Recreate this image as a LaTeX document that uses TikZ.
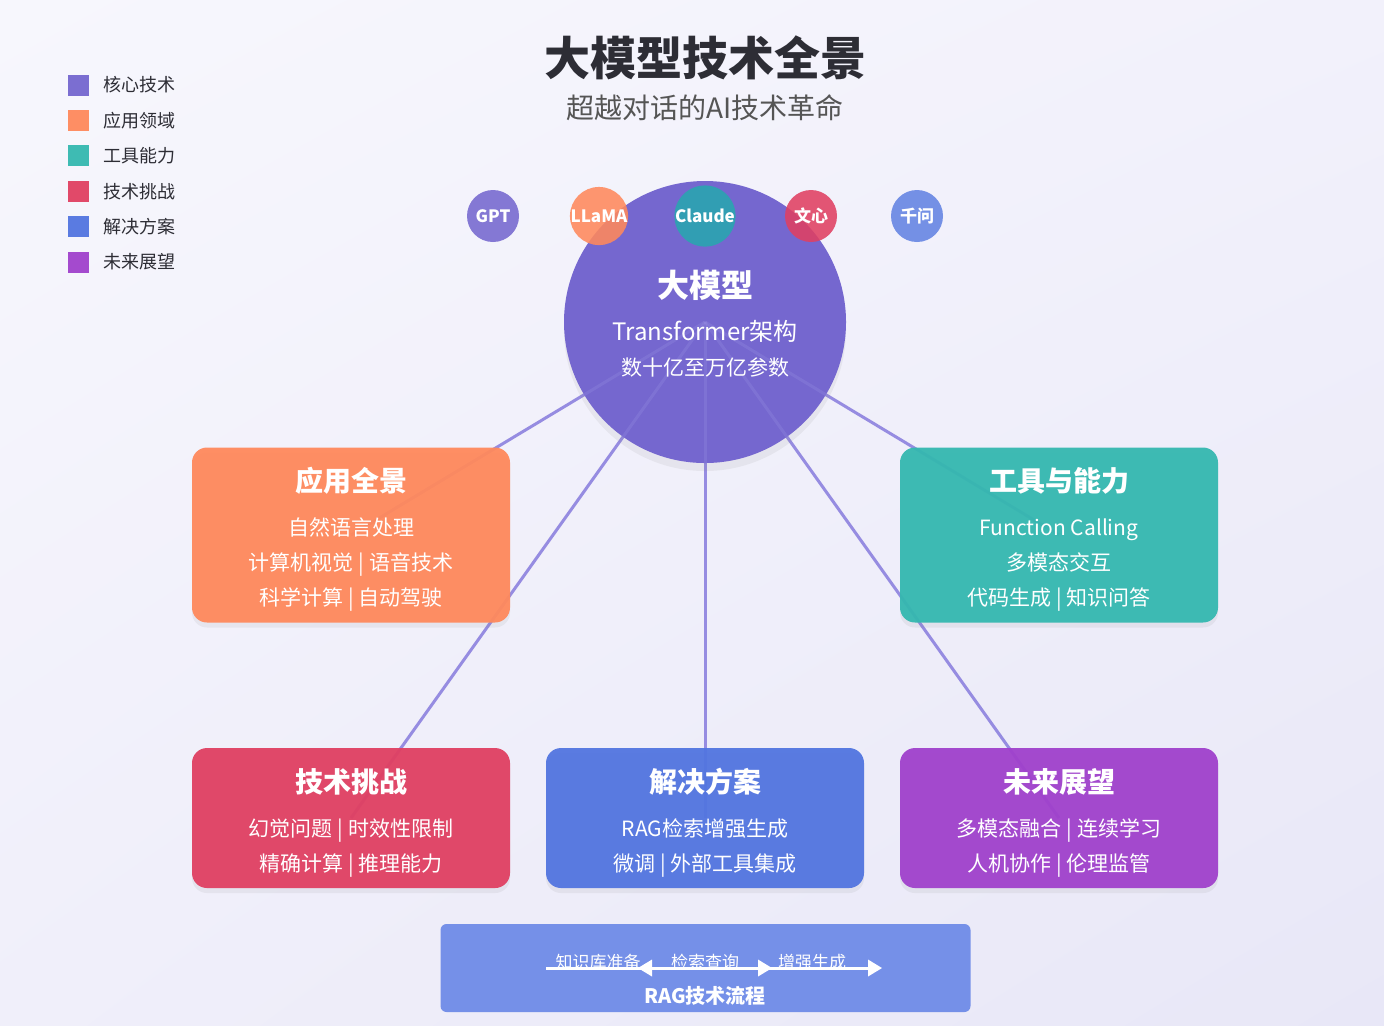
\documentclass[tikz,border=0pt]{standalone}
\usepackage{fontspec}
\setmainfont{Noto Sans CJK SC}
\usetikzlibrary{arrows.meta,shadows,shadings}

\definecolor{coreC}{HTML}{7567CF}
\definecolor{appC}{HTML}{FF895C}
\definecolor{toolC}{HTML}{35B8B0}
\definecolor{claudeC}{HTML}{2EA2B2}
\definecolor{chalC}{HTML}{E04062}
\definecolor{solC}{HTML}{5275E0}
\definecolor{futC}{HTML}{A041CC}
\definecolor{ragC}{HTML}{7590E8}
\definecolor{linkC}{RGB}{150,140,225}
\definecolor{titleC}{HTML}{2D2D35}
\definecolor{subC}{HTML}{555555}
\definecolor{bgUL}{RGB}{247,247,253}
\definecolor{bgUR}{RGB}{242,241,251}
\definecolor{bgLL}{RGB}{240,239,250}
\definecolor{bgLR}{RGB}{232,231,247}

\pgfdeclarelayer{bg}
\pgfdeclarelayer{links}
\pgfsetlayers{bg,links,main}

\begin{document}
\begin{tikzpicture}[x=0.5pt, y=-0.5pt]
\tikzset{
  card/.style={draw=none, rounded corners=7.5pt, minimum width=159pt, inner sep=0pt,
    fill opacity=0.95, drop shadow={shadow xshift=0pt, shadow yshift=-2.5pt, opacity=0.10}},
  cardtitle/.style={text=white, font=\bfseries\fontsize{14}{16}\selectfont},
  cardtext/.style={text=white, text height=9pt, text depth=1.2pt, font=\fontsize{10.5}{12}\selectfont},
  model/.style={circle, minimum size=26pt, inner sep=0pt, fill opacity=0.88, text opacity=1,
    text=white, font=\bfseries\fontsize{8.5}{9}\selectfont},
  legbox/.style={minimum size=10.5pt, inner sep=0pt, fill opacity=0.95},
  legtext/.style={anchor=west, inner sep=0pt, text=titleC, font=\fontsize{9}{10}\selectfont},
  link/.style={draw=linkC, line width=1.5pt},
  ragline/.style={draw=white, line width=1.5pt},
  ragtip/.style={draw=white, fill=white, line width=0pt, -{Triangle[length=7pt,width=8.5pt]}},
  raglab/.style={text=white, font=\fontsize{8.5}{9}\selectfont}}

% ---------------- background and frame ----------------
\begin{pgfonlayer}{bg}
\shade[upper left=bgUL, upper right=bgUR, lower left=bgLL, lower right=bgLR]
  (0,0) rectangle (1384,1025);
\end{pgfonlayer}
\useasboundingbox (0,0) rectangle (1384,1025);

% ---------------- title ----------------
\node[text=titleC, font=\bfseries\fontsize{23}{26}\selectfont] (title) at (705,58) {大模型技术全景};
\node[text=subC, font=\fontsize{14}{16}\selectfont] (subtitle) at (705,108) {超越对话的AI技术革命};

% ---------------- legend ----------------
\node[legbox, fill=coreC] (leg1) at (78.5,85)  {};
\node[legtext] (leg1t) at (103,85)  {核心技术};
\node[legbox, fill=appC]  (leg2) at (78.5,120.4) {};
\node[legtext] (leg2t) at (103,120.4) {应用领域};
\node[legbox, fill=toolC] (leg3) at (78.5,155.8) {};
\node[legtext] (leg3t) at (103,155.8) {工具能力};
\node[legbox, fill=chalC] (leg4) at (78.5,191.2) {};
\node[legtext] (leg4t) at (103,191.2) {技术挑战};
\node[legbox, fill=solC]  (leg5) at (78.5,226.6) {};
\node[legtext] (leg5t) at (103,226.6) {解决方案};
\node[legbox, fill=futC]  (leg6) at (78.5,262) {};
\node[legtext] (leg6t) at (103,262) {未来展望};

% ---------------- core model ----------------
\node[circle, fill=coreC, minimum size=141pt, inner sep=0pt,
  drop shadow={shadow xshift=0pt, shadow yshift=-4pt, opacity=0.10}] (core) at (705,322) {};
% faint links seen through the core
\begin{scope}
\clip (core.center) circle[radius=70.5pt];
\draw[link, draw opacity=0.3] (core.center) -- (351,535);
\draw[link, draw opacity=0.3] (core.center) -- (1059,535);
\draw[link, draw opacity=0.3] (core.center) -- (351,818);
\draw[link, draw opacity=0.3] (core.center) -- (705,818);
\draw[link, draw opacity=0.3] (core.center) -- (1059,818);
\end{scope}
\node[text=white, font=\bfseries\fontsize{16}{18}\selectfont] (coreT) at (705,285) {大模型};
\node[text=white, font=\fontsize{12}{14}\selectfont] (coreA) at (705,331) {Transformer架构};
\node[text=white, font=\fontsize{10.5}{12}\selectfont] (coreB) at (705,367) {数十亿至万亿参数};

\node[model, fill=coreC] (gpt)    at (493,216) {GPT};
\node[model, fill=appC]  (llama)  at (599,216) {LLaMA};
\node[model, fill=claudeC, fill opacity=0.95] (claude) at (705,216) {Claude};
\node[model, fill=chalC] (wenxin) at (811,216) {文心};
\node[model, fill=solC!90!white] (qianwen) at (917,216) {千问};

% ---------------- upper cards ----------------
\node[card, fill=appC, minimum height=87.5pt] (app) at (351,535) {};
\node[cardtitle] (appT) at (351,481) {应用全景};
\node[cardtext]  (appL1) at (351,528) {自然语言处理};
\node[cardtext]  (appL2) at (351,563) {计算机视觉 | 语音技术};
\node[cardtext]  (appL3) at (351,598) {科学计算 | 自动驾驶};

\node[card, fill=toolC, minimum height=87.5pt] (tool) at (1059,535) {};
\node[cardtitle] (toolT) at (1059,481) {工具与能力};
\node[cardtext]  (toolL1) at (1059,528) {Function Calling};
\node[cardtext]  (toolL2) at (1059,563) {多模态交互};
\node[cardtext]  (toolL3) at (1059,598) {代码生成 | 知识问答};

% ---------------- lower cards ----------------
\node[card, fill=chalC, minimum height=70pt] (chal) at (351,818) {};
\node[cardtitle] (chalT) at (351,782) {技术挑战};
\node[cardtext]  (chalL1) at (351,829) {幻觉问题 | 时效性限制};
\node[cardtext]  (chalL2) at (351,864) {精确计算 | 推理能力};

\node[card, fill=solC, minimum height=70pt] (sol) at (705,818) {};
\node[cardtitle] (solT) at (705,782) {解决方案};
\node[cardtext]  (solL1) at (705,829) {RAG检索增强生成};
\node[cardtext]  (solL2) at (705,864) {微调 | 外部工具集成};

\node[card, fill=futC, minimum height=70pt] (fut) at (1059,818) {};
\node[cardtitle] (futT) at (1059,782) {未来展望};
\node[cardtext]  (futL1) at (1059,829) {多模态融合 | 连续学习};
\node[cardtext]  (futL2) at (1059,864) {人机协作 | 伦理监管};

% ---------------- links from the core ----------------
\begin{pgfonlayer}{links}
\draw[link] (core.center) -- (app.center);
\draw[link] (core.center) -- (tool.center);
\draw[link] (core.center) -- (chal.center);
\draw[link] (core.center) -- (sol.center);
\draw[link] (core.center) -- (fut.center);
\end{pgfonlayer}

% ---------------- RAG pipeline ----------------
\node[fill=ragC, rounded corners=3pt, minimum width=265pt, minimum height=44pt, inner sep=0pt] (rag) at (705.5,968) {};
\coordinate (ragS) at (546,968);
\coordinate (ragE) at (868,968);
\draw[ragline] (ragS) -- (ragE);
\coordinate (tipA0) at (652,968);
\coordinate (tipA) at (638,968);
\coordinate (tipB0) at (758,968);
\coordinate (tipB) at (772,968);
\coordinate (tipC0) at (866,968);
\coordinate (tipC) at (882,968);
\draw[ragtip] (tipA0) -- (tipA);
\draw[ragtip] (tipB0) -- (tipB);
\draw[ragtip] (tipC0) -- (tipC);
\node[raglab] (rag1) at (598,962) {知识库准备};
\node[raglab] (rag2) at (705,962) {检索查询};
\node[raglab] (rag3) at (812,962) {增强生成};
\node[text=white, font=\bfseries\fontsize{10}{12}\selectfont] (ragT) at (705,996) {RAG技术流程};
\end{tikzpicture}
\end{document}
